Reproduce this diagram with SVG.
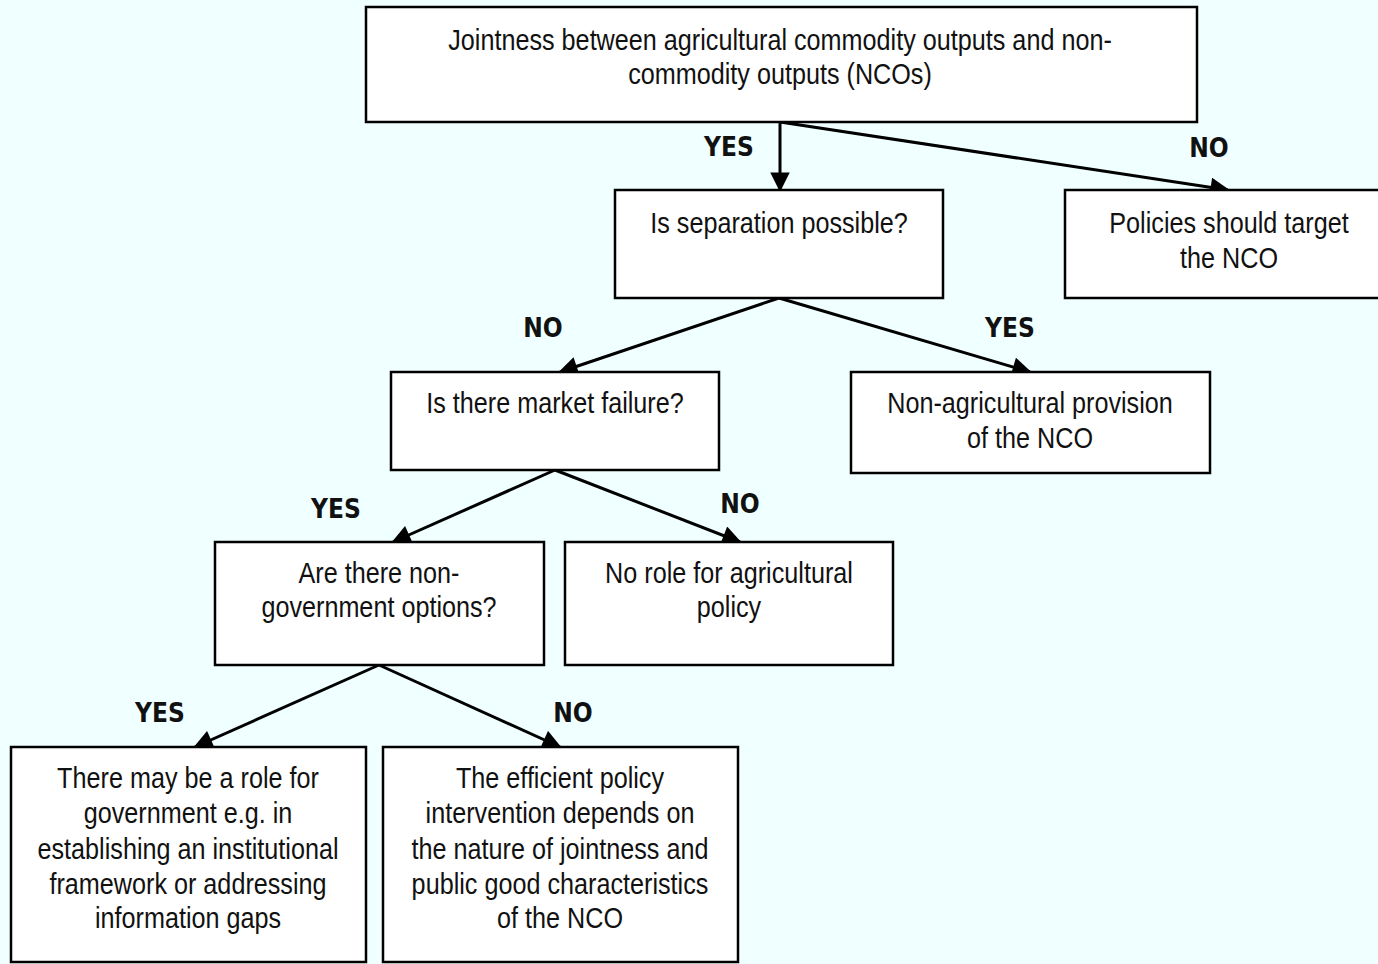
<svg xmlns="http://www.w3.org/2000/svg" width="1378" height="964" viewBox="0 0 1378 964">
<style>
.box{fill:#fff;stroke:#000;stroke-width:2.5}
.t{font-family:"Liberation Sans",Arial,sans-serif;font-size:30px;fill:#111;text-anchor:middle}
.lbl{font-family:"DejaVu Sans",sans-serif;font-stretch:condensed;font-weight:bold;font-size:26px;fill:#111;text-anchor:middle}
.c{stroke:#000;stroke-width:3;fill:none;marker-end:url(#ah)}
</style>
<defs>
<marker id="ah" viewBox="0 0 10 10" refX="9" refY="5" markerWidth="7.5" markerHeight="6.5" markerUnits="strokeWidth" orient="auto">
<path d="M0,0 L10,5 L0,10 z" fill="#000"/>
</marker>
</defs>
<rect width="1378" height="964" fill="#F0FFFF"/>
<g id="connectors">
<line class="c" x1="780" y1="122" x2="780" y2="190"/>
<line class="c" x1="780" y1="122" x2="1228" y2="190"/>
<line class="c" x1="779" y1="298" x2="560" y2="372"/>
<line class="c" x1="779" y1="298" x2="1030" y2="372"/>
<line class="c" x1="555" y1="470" x2="393" y2="542"/>
<line class="c" x1="555" y1="470" x2="740" y2="542"/>
<line class="c" x1="379" y1="665" x2="195" y2="747"/>
<line class="c" x1="379" y1="665" x2="560" y2="747"/>
</g>
<g id="labels">
<text class="lbl" x="729" y="156">YES</text>
<text class="lbl" x="1209" y="157">NO</text>
<text class="lbl" x="543" y="337">NO</text>
<text class="lbl" x="1010" y="337">YES</text>
<text class="lbl" x="336" y="518">YES</text>
<text class="lbl" x="740" y="513">NO</text>
<text class="lbl" x="160" y="722">YES</text>
<text class="lbl" x="573" y="722">NO</text>
</g>
<g id="n1"><rect class="box" x="366" y="7" width="831" height="115"/>
<text class="t" transform="translate(780,50) scale(0.84,1)">Jointness between agricultural commodity outputs and non-</text>
<text class="t" transform="translate(780,84) scale(0.84,1)">commodity outputs (NCOs)</text></g>
<g id="n2"><rect class="box" x="615" y="190" width="328" height="108"/>
<text class="t" transform="translate(779,233) scale(0.84,1)">Is separation possible?</text></g>
<g id="n3"><rect class="box" x="1065" y="190" width="320" height="108"/>
<text class="t" transform="translate(1229,233) scale(0.84,1)">Policies should target</text>
<text class="t" transform="translate(1229,268) scale(0.84,1)">the NCO</text></g>
<g id="n4"><rect class="box" x="391" y="372" width="328" height="98"/>
<text class="t" transform="translate(555,413) scale(0.84,1)">Is there market failure?</text></g>
<g id="n5"><rect class="box" x="851" y="372" width="359" height="101"/>
<text class="t" transform="translate(1030,413) scale(0.84,1)">Non-agricultural provision</text>
<text class="t" transform="translate(1030,448) scale(0.84,1)">of the NCO</text></g>
<g id="n6"><rect class="box" x="215" y="542" width="329" height="123"/>
<text class="t" transform="translate(379,583) scale(0.84,1)">Are there non-</text>
<text class="t" transform="translate(379,617) scale(0.84,1)">government options?</text></g>
<g id="n7"><rect class="box" x="565" y="542" width="328" height="123"/>
<text class="t" transform="translate(729,583) scale(0.84,1)">No role for agricultural</text>
<text class="t" transform="translate(729,617) scale(0.84,1)">policy</text></g>
<g id="n8"><rect class="box" x="11" y="747" width="355" height="215"/>
<text class="t" transform="translate(188,788) scale(0.84,1)">There may be a role for</text>
<text class="t" transform="translate(188,823) scale(0.84,1)">government e.g. in</text>
<text class="t" transform="translate(188,859) scale(0.84,1)">establishing an institutional</text>
<text class="t" transform="translate(188,894) scale(0.84,1)">framework or addressing</text>
<text class="t" transform="translate(188,928) scale(0.84,1)">information gaps</text></g>
<g id="n9"><rect class="box" x="383" y="747" width="355" height="215"/>
<text class="t" transform="translate(560,788) scale(0.84,1)">The efficient policy</text>
<text class="t" transform="translate(560,823) scale(0.84,1)">intervention depends on</text>
<text class="t" transform="translate(560,859) scale(0.84,1)">the nature of jointness and</text>
<text class="t" transform="translate(560,894) scale(0.84,1)">public good characteristics</text>
<text class="t" transform="translate(560,928) scale(0.84,1)">of the NCO</text></g>
</svg>
